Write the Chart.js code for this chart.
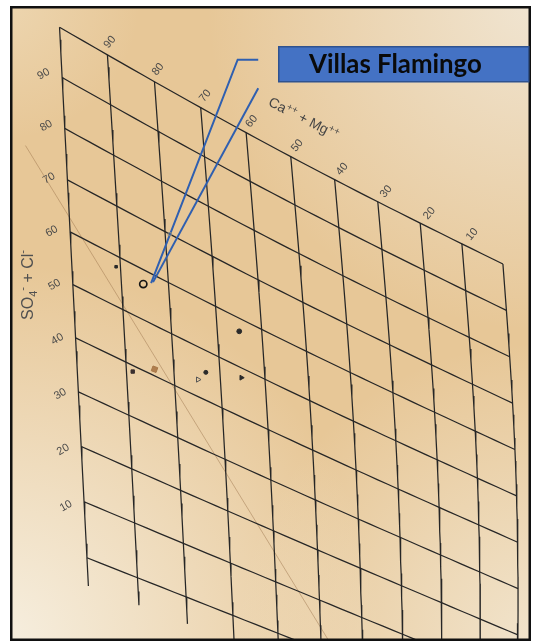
<!DOCTYPE html>
<html>
<head>
<meta charset="utf-8">
<script src="https://cdn.jsdelivr.net/npm/chart.js@4.4.1/dist/chart.umd.min.js"></script>
<style>
  html, body { margin: 0; padding: 0; background: #ffffff; }
  #wrap { width: 537px; height: 643px; position: relative; }
</style>
</head>
<body>
<div id="wrap"><canvas id="piper" width="537" height="643"></canvas></div>
<script>
// ---- Sample compositions, percent of meq/L ----
const caMgPct  = [85.4, 90.9, 79, 65.1, 88.7, 84.1, 74.9, 73.1, 65.3];
const so4ClPct = [57.1, 57.8, 70, 57.3, 38.8, 41.3, 43.4, 45.6, 48];
const calloutSample = 0;            // sample pointed to by the callout
const calloutText = 'Villas Flamingo';

// ---- Grid and tick values ----
const gridValues = [0, 10, 20, 30, 40, 50, 60, 70, 80, 90, 100];
const caTickValues = [90, 80, 70, 60, 50, 40, 30, 20, 10];
const soTickValues = [90, 80, 70, 60, 50, 40, 30, 20, 10];

// ---- Marker styles (one per sample) ----
const markerStyle  = ['circle', 'rect', 'rect', 'circle', 'rect', 'rect', 'triangle', 'circle', 'triangle'];
const markerRadius = [3.6, 1.8, 2.2, 2.4, 2.4, 3.6, 3.0, 2.0, 2.8];
const markerFill   = ['rgba(0,0,0,0)', '#2a2a2a', 'rgba(0,0,0,0)', '#2a2a2a', '#3a3030', '#b07e4e', 'rgba(0,0,0,0)', '#2a2a2a', '#2a2a2a'];
const markerLine   = ['#151515', '#2a2a2a', '#8a8a80', '#2a2a2a', '#3a3030', '#a87848', '#555555', '#2a2a2a', '#2a2a2a'];
const markerWidth  = [1.7, 1, 1, 1, 1, 1, 1, 1, 1];
const markerRot    = [0, 0, 0, 0, 0, 20, 90, 0, 90];

// ---- Sheet geometry: the diamond section as it lies on the page ----
const W = 537, H = 643;
const TL = [55, 22], TR = [508, 263], BL = [83, 562], BR = [522, 735];

// Maps (Ca+Mg %, SO4+Cl %) to canvas position on the tilted, slightly bowed sheet
function project(ca, so) {
  const u = (100 - ca) / 100, v = (100 - so) / 100;
  const k = 0.09 + 0.11 * v;
  const U = (1 + k) * u / (1 + k * u);
  const kv = -0.058 * (1 - U);
  const V = (1 + kv) * v / (1 + kv * v);
  let x = (1 - U) * (1 - V) * TL[0] + U * (1 - V) * TR[0] + U * V * BR[0] + (1 - U) * V * BL[0];
  let y = (1 - U) * (1 - V) * TL[1] + U * (1 - V) * TR[1] + U * V * BR[1] + (1 - U) * V * BL[1];
  y += 6 * (1 - V) * Math.sin(Math.PI * U);
  x += 7 * Math.sin(Math.PI * V) * U;
  return { x, y };
}

const datasets = [];

// constant Ca+Mg lines
gridValues.forEach(ca => {
  const pts = [];
  for (let s = 100; s >= -5; s -= 2.5) pts.push(project(ca, s));
  datasets.push({ data: pts, showLine: true, borderColor: '#262626', borderWidth: 1.25,
    pointRadius: 0, tension: 0, clip: false, order: 3 });
});
// constant SO4+Cl lines
gridValues.forEach(so => {
  const pts = [];
  for (let c = 100; c >= 0; c -= 2.5) pts.push(project(c, so));
  datasets.push({ data: pts, showLine: true, borderColor: '#262626', borderWidth: 1.25,
    pointRadius: 0, tension: 0, clip: false, order: 3 });
});

// faint printed diagonal across the sheet
(function () {
  const a = project(97, 59.3), b = project(49, 3.5);
  const ext = t => ({ x: a.x + (b.x - a.x) * t, y: a.y + (b.y - a.y) * t });
  datasets.push({ data: [ext(-0.25), ext(1.05)], showLine: true, borderColor: 'rgba(150,110,70,0.45)',
    borderWidth: 1, pointRadius: 0, clip: false, order: 4 });
})();

// callout leader lines
const target = project(caMgPct[calloutSample], so4ClPct[calloutSample]);
datasets.push({ data: [{ x: 258, y: 55 }, { x: 237, y: 55 }, { x: target.x + 8, y: target.y - 1 }],
  showLine: true, borderColor: '#2f5fb0', borderWidth: 2, pointRadius: 0, tension: 0, clip: false, order: 1 });
datasets.push({ data: [{ x: 258, y: 84 }, { x: target.x + 10, y: target.y - 2 }],
  showLine: true, borderColor: '#2f5fb0', borderWidth: 2, pointRadius: 0, tension: 0, clip: false, order: 1 });

// samples
datasets.push({
  data: caMgPct.map((c, i) => project(c, so4ClPct[i])),
  showLine: false, pointStyle: markerStyle, pointRadius: markerRadius,
  backgroundColor: markerFill, borderColor: markerLine, borderWidth: markerWidth,
  rotation: markerRot, clip: false, order: 0
});

function drawRich(ctx, parts, cx, cy, angle, color) {
  ctx.save();
  ctx.translate(cx, cy);
  ctx.rotate(angle * Math.PI / 180);
  ctx.fillStyle = color;
  ctx.textBaseline = 'alphabetic';
  let total = 0;
  parts.forEach(p => { ctx.font = p.size + 'px "Liberation Sans", Arial, sans-serif'; p.w = ctx.measureText(p.t).width; total += p.w; });
  let x = -total / 2;
  parts.forEach(p => {
    ctx.font = p.size + 'px "Liberation Sans", Arial, sans-serif';
    ctx.fillText(p.t, x, 5 + (p.dy || 0));
    x += p.w;
  });
  ctx.restore();
}

const sheetPlugin = {
  id: 'sheet',
  beforeDraw(chart) {
    const ctx = chart.ctx;
    ctx.save();
    ctx.fillStyle = '#e7c797';
    ctx.fillRect(0, 0, W, H);
    let g = ctx.createRadialGradient(0, H, 10, 0, H, 380);
    g.addColorStop(0, 'rgba(246,238,222,1)');
    g.addColorStop(1, 'rgba(246,238,222,0)');
    ctx.fillStyle = g; ctx.fillRect(0, 0, W, H);
    g = ctx.createRadialGradient(W, 0, 10, W, 0, 330);
    g.addColorStop(0, 'rgba(240,228,208,1)');
    g.addColorStop(1, 'rgba(240,228,208,0)');
    ctx.fillStyle = g; ctx.fillRect(0, 0, W, H);
    g = ctx.createRadialGradient(W, H, 10, W, H, 300);
    g.addColorStop(0, 'rgba(242,230,208,0.9)');
    g.addColorStop(1, 'rgba(242,230,208,0)');
    ctx.fillStyle = g; ctx.fillRect(0, 0, W, H);
    g = ctx.createRadialGradient(0, 0, 10, 0, 0, 140);
    g.addColorStop(0, 'rgba(240,222,190,0.6)');
    g.addColorStop(1, 'rgba(240,222,190,0)');
    ctx.fillStyle = g; ctx.fillRect(0, 0, W, H);
    ctx.restore();
  },
  afterDraw(chart) {
    const ctx = chart.ctx;
    ctx.save();
    // tick labels along the top edge (Ca+Mg)
    ctx.font = '11px "Liberation Sans", Arial, sans-serif';
    ctx.fillStyle = '#4a4a4a';
    ctx.textAlign = 'center';
    ctx.textBaseline = 'middle';
    caTickValues.forEach(v => {
      const p = project(v, 100);
      ctx.save(); ctx.translate(p.x + 6, p.y - 8); ctx.rotate(-50 * Math.PI / 180);
      ctx.fillText(String(v), 0, 0); ctx.restore();
    });
    // tick labels along the left edge (SO4+Cl)
    soTickValues.forEach(v => {
      const p = project(100, v);
      ctx.save(); ctx.translate(p.x - 14, p.y + 1); ctx.rotate(-30 * Math.PI / 180);
      ctx.fillText(String(v), 0, 0); ctx.restore();
    });
    ctx.restore();

    // axis titles
    drawRich(ctx, [
      { t: 'Ca', size: 14 }, { t: '++', size: 10, dy: -5 }, { t: ' + ', size: 14 },
      { t: 'Mg', size: 14 }, { t: '++', size: 10, dy: -5 }
    ], 304, 118, 27, '#454545');
    drawRich(ctx, [
      { t: 'SO', size: 16 }, { t: '4', size: 11, dy: 4 }, { t: '-', size: 11, dy: -7 },
      { t: ' + Cl', size: 16 }, { t: '-', size: 11, dy: -7 }
    ], 28, 285, -90, '#505050');

    // photo frame
    ctx.save();
    ctx.fillStyle = '#ffffff';
    ctx.fillRect(0, 0, 10, H);
    ctx.fillRect(0, 0, W, 6);
    ctx.fillRect(531, 0, W - 531, H);
    ctx.fillRect(0, 641, W, H - 641);
    ctx.strokeStyle = '#111111';
    ctx.lineWidth = 2.5;
    ctx.strokeRect(11.25, 7.25, 518.5, 632.5);
    ctx.restore();

    // callout box
    ctx.save();
    ctx.fillStyle = '#4472c4';
    ctx.fillRect(278, 46, 251, 36);
    ctx.strokeStyle = '#2f528f';
    ctx.lineWidth = 1.5;
    ctx.strokeRect(278.75, 46.75, 250, 35);
    ctx.font = 'bold 100px Lato, "Open Sans", sans-serif';
    const fs = 100 * 173 / ctx.measureText(calloutText).width;
    ctx.font = 'bold ' + fs.toFixed(1) + 'px Lato, "Open Sans", sans-serif';
    ctx.fillStyle = '#0a0a0a';
    ctx.textBaseline = 'middle';
    ctx.textAlign = 'left';
    ctx.fillText(calloutText, 309, 65);
    ctx.restore();
  }
};

new Chart(document.getElementById('piper'), {
  type: 'scatter',
  data: { datasets },
  options: {
    responsive: false,
    animation: false,
    layout: { padding: 0 },
    scales: {
      x: { type: 'linear', min: 0, max: W, display: false },
      y: { type: 'linear', min: 0, max: H, reverse: true, display: false }
    },
    plugins: { legend: { display: false }, tooltip: { enabled: false } }
  },
  plugins: [sheetPlugin]
});
</script>
</body>
</html>
